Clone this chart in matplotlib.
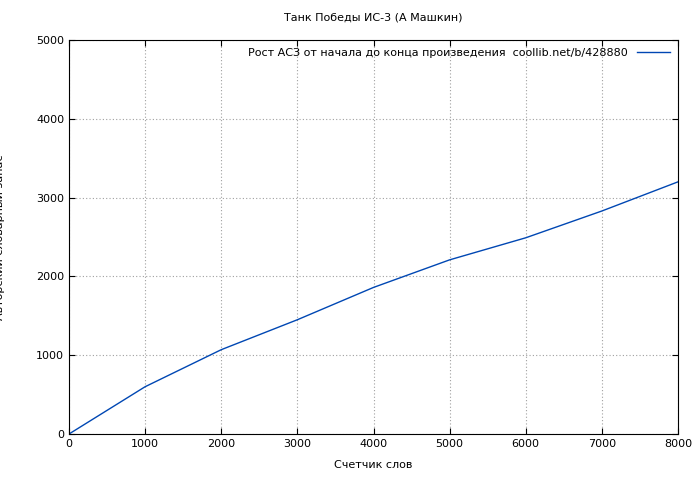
import matplotlib

matplotlib.use("Agg")
import matplotlib.pyplot as plt

words = [0, 1000, 2000, 3000, 4000, 5000, 6000, 7000, 8000]
vocab = [0, 600, 1070, 1450, 1860, 2210, 2490, 2830, 3200]

plt.rcParams["font.family"] = ["DejaVu Sans"]
plt.rcParams["font.size"] = 8

fig = plt.figure(figsize=(7, 4.8), dpi=100)
ax = fig.add_axes([69 / 700, 46 / 480, 609 / 700, 394 / 480])
ax.plot(words, vocab, color="#0047b3", lw=1,
        label="Рост АСЗ от начала до конца произведения  coollib.net/b/428880")
ax.set_xlim(0, 8000)
ax.set_ylim(0, 5000)
ax.set_xticks(range(0, 8001, 1000))
ax.set_yticks(range(0, 5001, 1000))
ax.grid(True, color="#a0a0a0", linestyle=(0, (1, 2)), lw=0.8)
ax.tick_params(direction="in", length=4, top=True, right=True)
ax.set_xlabel("Счетчик слов", labelpad=8)
ax.set_ylabel("Авторский словарный запас", labelpad=22)
ax.set_title("Танк Победы ИС-3 (А Машкин)", fontsize=8, pad=14)
ax.legend(loc="upper right", frameon=False, markerfirst=False,
          handlelength=3, borderaxespad=0.3)
fig.savefig("out.png", dpi=100, facecolor="white")
